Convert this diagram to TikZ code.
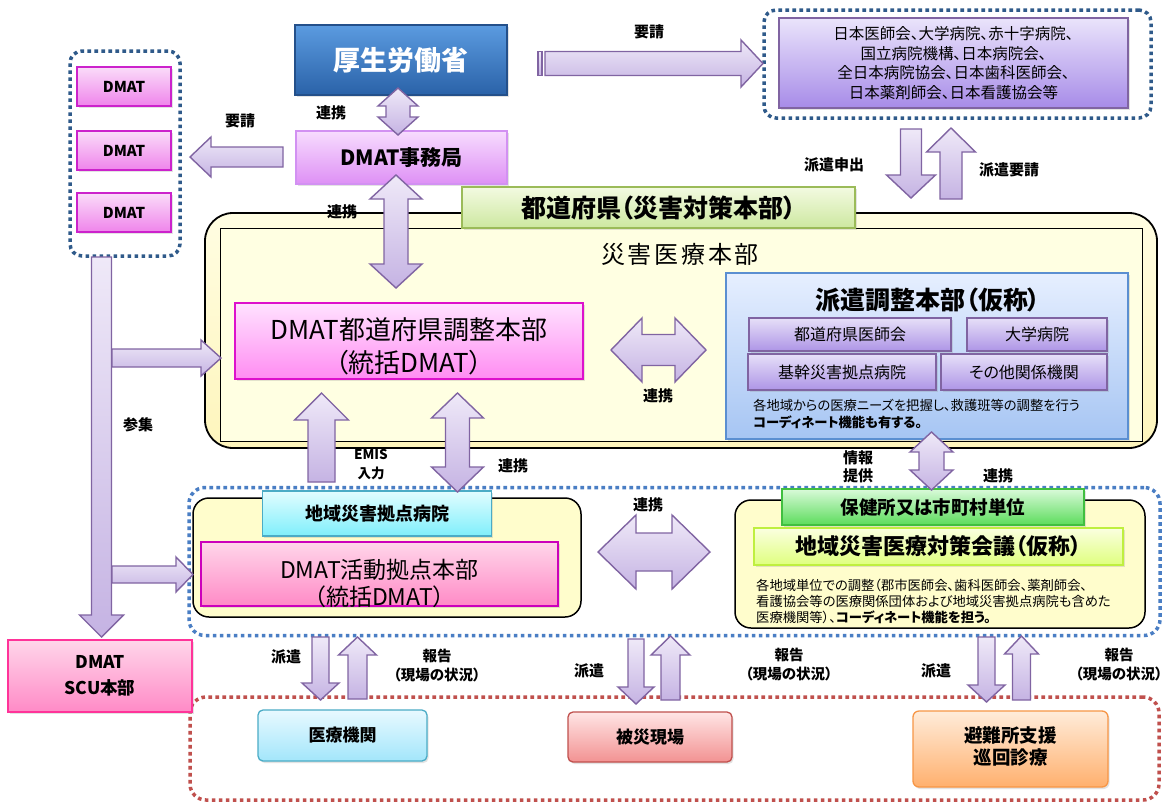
\documentclass[tikz,border=0pt]{standalone}
\usepackage{fontspec}
\setmainfont{Noto Sans CJK JP}[RawFeature=+palt]
\usetikzlibrary{shadows}
\definecolor{arrB}{HTML}{8064A2}
\definecolor{arrT}{HTML}{EFE9F8}
\definecolor{arrBt}{HTML}{C5B3E3}
\definecolor{frDark}{HTML}{2F5A8A}
\definecolor{frBlue}{HTML}{4A7EC4}
\definecolor{frRed}{HTML}{C0504D}
\definecolor{koseiT}{HTML}{5B9BE0}
\definecolor{koseiBt}{HTML}{2A62A8}
\definecolor{koseiB}{HTML}{24508A}
\definecolor{orgT}{HTML}{EAE4FB}
\definecolor{orgBt}{HTML}{A78BE8}
\definecolor{dmatT}{HTML}{FADCF9}
\definecolor{dmatBt}{HTML}{EF84EB}
\definecolor{dmatB}{HTML}{CC22CC}
\definecolor{jimuT}{HTML}{F7DCFE}
\definecolor{jimuBt}{HTML}{DE90F5}
\definecolor{jimuB}{HTML}{D291F2}
\definecolor{outT}{HTML}{FFFDE2}
\definecolor{outBt}{HTML}{FEF5BC}
\definecolor{innF}{HTML}{FFFFE2}
\definecolor{prefT}{HTML}{F3FAE1}
\definecolor{prefBt}{HTML}{CDE8A0}
\definecolor{prefB}{HTML}{9BBB59}
\definecolor{pdT}{HTML}{FFE2FF}
\definecolor{pdBt}{HTML}{FF8CF2}
\definecolor{pdB}{HTML}{DD11CC}
\definecolor{hakT}{HTML}{E6EFFF}
\definecolor{hakBt}{HTML}{A6C5F3}
\definecolor{hakB}{HTML}{5B8FD1}
\definecolor{subT}{HTML}{E6DFF8}
\definecolor{subBt}{HTML}{AE95E6}
\definecolor{chT}{HTML}{E2FDFF}
\definecolor{chBt}{HTML}{7FEFFB}
\definecolor{chB}{HTML}{4BACC6}
\definecolor{kaT}{HTML}{FFD6EA}
\definecolor{kaBt}{HTML}{FF8AC6}
\definecolor{kaB}{HTML}{CC00BB}
\definecolor{hoT}{HTML}{D9FAD9}
\definecolor{hoBt}{HTML}{5CDC5C}
\definecolor{hoB}{HTML}{40BF40}
\definecolor{kgT}{HTML}{FBFFE0}
\definecolor{kgBt}{HTML}{DFFF7E}
\definecolor{kgB}{HTML}{BFEF3F}
\definecolor{scuB}{HTML}{FF3399}
\definecolor{iryT}{HTML}{E8F9FF}
\definecolor{iryBt}{HTML}{A3E6FB}
\definecolor{iryB}{HTML}{4BACC6}
\definecolor{hisT}{HTML}{FFE5E5}
\definecolor{hisBt}{HTML}{F29292}
\definecolor{hisB}{HTML}{C0504D}
\definecolor{hinT}{HTML}{FFECDA}
\definecolor{hinBt}{HTML}{FFB06E}
\definecolor{hinB}{HTML}{F79646}
\definecolor{yelF}{HTML}{FFFDCC}

\newcommand{\fsz}[2]{\fontsize{#1pt}{#2pt}\selectfont}
\newcommand{\hs}{\hspace{2.7pt}}

% block arrows: vertical (cx, ytail, ytip, shaft half, head half, head length)
\newcommand{\ArDown}[6]{\path[arrowfill] ({#1-#4},#2) -- ({#1+#4},#2) -- ({#1+#4},{#3-#6}) -- ({#1+#5},{#3-#6}) -- (#1,#3) -- ({#1-#5},{#3-#6}) -- ({#1-#4},{#3-#6}) -- cycle;}
\newcommand{\ArUp}[6]{\path[arrowfill] ({#1-#4},#2) -- ({#1+#4},#2) -- ({#1+#4},{#3+#6}) -- ({#1+#5},{#3+#6}) -- (#1,#3) -- ({#1-#5},{#3+#6}) -- ({#1-#4},{#3+#6}) -- cycle;}
% horizontal (cy, xtail, xtip, shaft half, head half, head length)
\newcommand{\ArRight}[6]{\path[arrowfill] (#2,{#1-#4}) -- ({#3-#6},{#1-#4}) -- ({#3-#6},{#1-#5}) -- (#3,#1) -- ({#3-#6},{#1+#5}) -- ({#3-#6},{#1+#4}) -- (#2,{#1+#4}) -- cycle;}
\newcommand{\ArLeft}[6]{\path[arrowfill] (#2,{#1-#4}) -- ({#3+#6},{#1-#4}) -- ({#3+#6},{#1-#5}) -- (#3,#1) -- ({#3+#6},{#1+#5}) -- ({#3+#6},{#1+#4}) -- (#2,{#1+#4}) -- cycle;}
% double (c, a, b, shaft half, head half, head length)
\newcommand{\ArVDouble}[6]{\path[arrowfill] (#1,#2) -- ({#1+#5},{#2+#6}) -- ({#1+#4},{#2+#6}) -- ({#1+#4},{#3-#6}) -- ({#1+#5},{#3-#6}) -- (#1,#3) -- ({#1-#5},{#3-#6}) -- ({#1-#4},{#3-#6}) -- ({#1-#4},{#2+#6}) -- ({#1-#5},{#2+#6}) -- cycle;}
\newcommand{\ArHDouble}[6]{\path[arrowfill] (#2,#1) -- ({#2+#6},{#1-#5}) -- ({#2+#6},{#1-#4}) -- ({#3-#6},{#1-#4}) -- ({#3-#6},{#1-#5}) -- (#3,#1) -- ({#3-#6},{#1+#5}) -- ({#3-#6},{#1+#4}) -- ({#2+#6},{#1+#4}) -- ({#2+#6},{#1+#5}) -- cycle;}

\tikzset{
  bx/.style={draw, line width=1.3pt, inner sep=0pt, align=center,
    drop shadow={opacity=0.22, shadow xshift=1.5pt, shadow yshift=-2pt}},
  arrowfill/.style={draw=arrB, line width=1.4pt, top color=arrT, bottom color=arrBt, line join=miter},
  lbl/.style={inner sep=0pt, font=\fsz{15}{18}\bfseries, align=center},
  dotfr/.style={line width=3.5pt, dash pattern=on 3.6pt off 3.4pt, rounded corners=12pt, inner sep=0pt},
  yel/.style={draw=black, line width=1.5pt, fill=yelF, rounded corners=16pt, inner sep=0pt},
  dmatbox/.style={bx, draw=dmatB, top color=dmatT, bottom color=dmatBt, minimum width=94pt, minimum height=39pt, font=\fsz{15}{18}\bfseries},
  subbox/.style={bx, draw=arrB, top color=subT, bottom color=subBt, font=\fsz{16}{19}},
  desc/.style={anchor=west, inner sep=0pt},
}

\begin{document}
\begin{tikzpicture}[x=1pt,y=-1pt]
\useasboundingbox (0,0) rectangle (1171,804);
\fill[white] (0,0) rectangle (1171,804);

% ---------- frames ----------
\node[dotfr, draw=frDark, minimum width=387pt, minimum height=108pt] (orgfr) at (957.5,64) {};
\node[dotfr, draw=frDark, minimum width=110pt, minimum height=205pt] (dmatfr) at (125,153.5) {};
\node[dotfr, draw=frBlue, minimum width=971pt, minimum height=148pt, rounded corners=16pt] (bluefr) at (674.5,561.5) {};
\node[dotfr, draw=frRed, minimum width=969pt, minimum height=103pt, rounded corners=16pt] (redfr) at (674.5,748.5) {};

% ---------- top ----------
\node[bx, draw=koseiB, top color=koseiT, bottom color=koseiBt, minimum width=212pt, minimum height=70pt, text=white, font=\fsz{27}{32}\bfseries] (kosei) at (401,60) {厚生労働省};
\node[bx, draw=arrB, top color=orgT, bottom color=orgBt, minimum width=349pt, minimum height=90pt, font=\fsz{15.5}{19.5}] (org) at (953.5,63) {日本医師会、大学病院、赤十字病院、\\国立病院機構、日本病院会、\\全日本病院協会、日本歯科医師会、\\日本薬剤師会、日本看護協会等};

\node[dmatbox] (dmat1) at (124,86.5) {DMAT};
\node[dmatbox] (dmat2) at (124,150.5) {DMAT};
\node[dmatbox] (dmat3) at (124,212.5) {DMAT};

\node[bx, draw=jimuB, top color=jimuT, bottom color=jimuBt, minimum width=211pt, minimum height=53pt, font=\fsz{21}{25}\bfseries] (jimu) at (401.5,157.5) {DMAT事務局};

% ---------- prefecture ----------
\node[draw=black, line width=1.8pt, top color=outT, bottom color=outBt, rounded corners=28pt, minimum width=952pt, minimum height=235pt, inner sep=0pt] (outer) at (681,330.5) {};
\node[draw=black, line width=1pt, fill=innF, minimum width=922pt, minimum height=213pt, inner sep=0pt] (inner) at (681,334.5) {};
\node[font=\fsz{24}{28}, inner sep=0pt] (saigai) at (680,254) {災\hs 害\hs 医\hs 療\hs 本\hs 部};
\node[bx, draw=prefB, top color=prefT, bottom color=prefBt, minimum width=393pt, minimum height=41pt, font=\fsz{25}{29}\bfseries] (pref) at (658.5,207.5) {都道府県（災害対策本部）};

\node[bx, draw=pdB, top color=pdT, bottom color=pdBt, minimum width=348pt, minimum height=76pt] (pdmat) at (409,341) {};
\node[font=\fsz{26}{33}, align=center, inner sep=0pt] (pdmatT) at (409,346) {DMAT都道府県調整本部\\（統括DMAT）};

\node[bx, draw=hakB, top color=hakT, bottom color=hakBt, minimum width=402pt, minimum height=166pt] (haken) at (927,356) {};
\node[font=\fsz{25}{29}\bfseries, inner sep=0pt] (hakenT) at (928,300) {派遣調整本部（仮称）};
\node[subbox, minimum width=202pt, minimum height=33pt] (sub1) at (850,334.5) {都道府県医師会};
\node[subbox, minimum width=140pt, minimum height=33pt] (sub2) at (1037,334.5) {大学病院};
\node[subbox, minimum width=188pt, minimum height=36pt] (sub3) at (842,372) {基幹災害拠点病院};
\node[subbox, minimum width=166pt, minimum height=36pt] (sub4) at (1024,372) {その他関係機関};
\node[desc, font=\fsz{13.3}{15}] (hakD1) at (753,405) {各地域からの医療ニーズを把握し、救護班等の調整を行う};
\node[desc, font=\fsz{13.3}{15}\bfseries] (hakD2) at (753,422) {コーディネート機能も有する。};

% ---------- regional ----------
\node[yel, minimum width=388pt, minimum height=119pt] (lyel) at (387,557.5) {};
\node[yel, minimum width=410pt, minimum height=128pt] (ryel) at (940,564) {};
\node[bx, draw=chB, top color=chT, bottom color=chBt, minimum width=229pt, minimum height=45pt, font=\fsz{18}{21}\bfseries] (chiiki) at (377.3,513.5) {地域災害拠点病院};
\node[bx, draw=kaB, top color=kaT, bottom color=kaBt, minimum width=357pt, minimum height=64pt] (katsudo) at (379.5,574) {};
\node[font=\fsz{23}{27}, align=center, inner sep=0pt] (katsudoT) at (379.5,583.5) {DMAT活動拠点本部\\（統括DMAT）};

\node[bx, draw=hoB, top color=hoT, bottom color=hoBt, minimum width=302pt, minimum height=36pt, font=\fsz{18.5}{22}\bfseries] (hoken) at (933,507) {保健所又は市町村単位};
\node[bx, draw=kgB, top color=kgT, bottom color=kgBt, minimum width=369pt, minimum height=37pt, font=\fsz{22}{25}\bfseries] (kaigi) at (938.5,546.5) {地域災害医療対策会議（仮称）};
\node[desc, font=\fsz{13.3}{15}] (kgD1) at (756,585) {各地域単位での調整（郡市医師会、歯科医師会、薬剤師会、};
\node[desc, font=\fsz{13.3}{15}] (kgD2) at (756,601) {看護協会等の医療関係団体および地域災害拠点病院も含めた};
\node[desc, font=\fsz{13.3}{15}] (kgD3) at (756,617) {医療機関等）、\textbf{コーディネート機能を担う。}};

% ---------- bottom ----------
\node[bx, draw=scuB, top color=kaT, bottom color=kaBt, minimum width=184pt, minimum height=72pt, font=\fsz{17.5}{26}\bfseries] (scu) at (100,676) {DMAT\\SCU本部};
\node[bx, draw=iryB, top color=iryT, bottom color=iryBt, minimum width=169pt, minimum height=51pt, rounded corners=5pt, font=\fsz{17}{20}\bfseries] (iryo) at (342.5,735.5) {医療機関};
\node[bx, draw=hisB, top color=hisT, bottom color=hisBt, minimum width=164pt, minimum height=50pt, rounded corners=5pt, font=\fsz{17}{20}\bfseries] (hisai) at (650,737) {被災現場};
\node[bx, draw=hinB, top color=hinT, bottom color=hinBt, minimum width=195pt, minimum height=76pt, rounded corners=6pt] (hinan) at (1010.5,749) {};
\node[font=\fsz{18.5}{22}\bfseries, align=center, inner sep=0pt] (hinanT) at (1010.5,746) {避難所支援\\巡回診療};

% ---------- block arrows ----------
\path[arrowfill] (538,51.5) rectangle (542,75.5);
\ArRight{63.5}{545}{763}{12}{23.5}{22}
\ArLeft{157}{283}{190}{10}{20}{21}
\ArVDouble{398}{88}{135}{12}{20}{18}
\ArVDouble{396}{175}{288}{12}{26}{24}
\ArDown{911}{129}{198}{10.5}{24.5}{23}
\ArUp{951}{199}{128}{11}{24.5}{24}
\ArHDouble{350}{611}{706}{15.5}{32}{31}
\ArUp{321.5}{482}{393}{13.5}{27}{27}
\ArVDouble{457.5}{393}{492}{12}{26}{25}
\ArVDouble{931.5}{432}{490}{12.5}{21.5}{20}
\ArHDouble{552}{598}{710}{19}{37}{38}
\ArDown{101.5}{257}{637}{10}{22}{22}
\ArRight{358}{112}{221}{9}{18}{20}
\ArRight{574.5}{112}{193}{8.5}{17.5}{17}
\ArDown{320.5}{637}{700}{8.5}{18.5}{17}
\ArUp{357.5}{699}{637}{9.5}{19}{18}
\ArDown{636}{639}{704}{8}{18}{17}
\ArUp{670.5}{700}{636}{9.5}{19.5}{19}
\ArDown{986.5}{637}{702}{8.5}{18.5}{17}
\ArUp{1021.5}{700}{636}{9}{17}{18}

% ---------- labels ----------
\node[lbl] (l1) at (649,32) {要請};
\node[lbl] (l2) at (240,121) {要請};
\node[lbl] (l3) at (331,113) {連携};
\node[lbl] (l4) at (342,212) {連携};
\node[lbl] (l5) at (834,165) {派遣申出};
\node[lbl] (l6) at (1009,170) {派遣要請};
\node[lbl] (l7) at (138,425) {参集};
\node[lbl] (l8) at (658,396) {連携};
\node[lbl, font=\fsz{13.5}{19}\bfseries] (l9) at (371,465) {EMIS\\入力};
\node[lbl] (l10) at (513,466) {連携};
\node[lbl, font=\fsz{15}{18}\bfseries] (l11) at (858,467) {情報\\提供};
\node[lbl] (l12) at (998,476) {連携};
\node[lbl] (l13) at (648,505) {連携};
\node[lbl] (l14) at (286,657) {派遣};
\node[lbl, font=\fsz{14.5}{19}\bfseries] (l15) at (437,666) {報告\\（現場の状況）};
\node[lbl] (l16) at (589,671) {派遣};
\node[lbl, font=\fsz{14.5}{19}\bfseries] (l17) at (789,665) {報告\\（現場の状況）};
\node[lbl] (l18) at (936,671) {派遣};
\node[lbl, font=\fsz{14.5}{19}\bfseries] (l19) at (1119,665) {報告\\（現場の状況）};
\end{tikzpicture}
\end{document}
